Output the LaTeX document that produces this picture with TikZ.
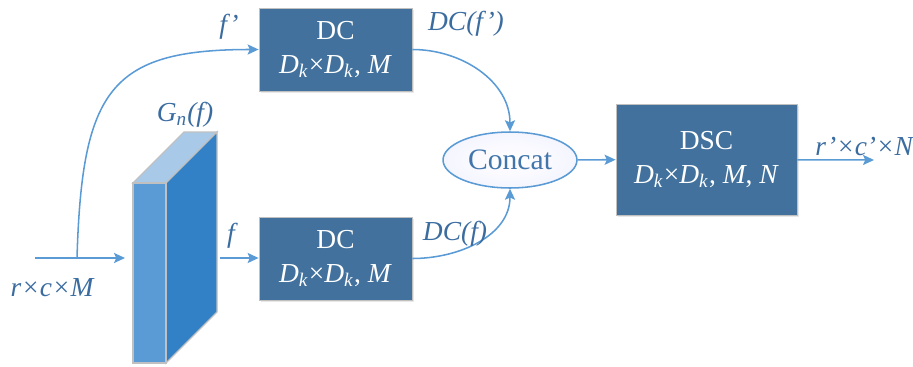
\documentclass[tikz,border=0pt]{standalone}
\usepackage{fontspec}
\setmainfont{Liberation Serif}
\usetikzlibrary{arrows.meta,shapes.geometric,shadows}
\definecolor{boxblue}{HTML}{41719C}
\definecolor{lineblue}{HTML}{5B9BD5}
\definecolor{txtblue}{HTML}{3B6CA0}
\definecolor{slabfront}{HTML}{5B9BD5}
\definecolor{slabside}{HTML}{3281C6}
\definecolor{slabtop}{HTML}{A9C9E8}
\definecolor{rimgray}{HTML}{C0C0C0}
\newcommand{\dk}{\textit{D}\textsubscript{\textit{k}}}
\tikzset{
    block/.style={draw=rimgray, fill=boxblue, text=white, align=center,
        inner sep=0pt, font=\fontsize{12.5}{15.5}\selectfont,
        drop shadow={opacity=0.18, shadow xshift=1pt, shadow yshift=-1pt}},
    link/.style={draw=lineblue, line width=0.7pt,
        -{Stealth[length=5pt, width=4.6pt, inset=1pt]}},
    lbl/.style={text=txtblue, font=\fontsize{12.5}{15}\selectfont\itshape, inner sep=0pt}
}
\begin{document}
\begin{tikzpicture}[x=0.016cm, y=-0.016cm]
    \useasboundingbox (0,0) rectangle (913,366);

    % Slab G_n(f)
    \begin{scope}[draw=rimgray, line width=0.6pt]
        \filldraw[fill=slabtop] (133,183) -- (184,132) -- (217,132) -- (166,183) -- cycle;
        \filldraw[fill=slabside] (166,183) -- (217,132) -- (217,312) -- (166,363) -- cycle;
        \filldraw[fill=slabfront] (133,183) rectangle (166,363);
    \end{scope}
    \coordinate (slabin) at (125,258);
    \coordinate (slabout) at (220,258);

    % Blocks
    \node[block, minimum width=2.448cm, minimum height=1.328cm] (dctop) at (335.5,49.5)
        {DC\\ \dk×\dk, \textit{M}};
    \node[block, minimum width=2.448cm, minimum height=1.328cm] (dcbot) at (335.5,258.5)
        {DC\\ \dk×\dk, \textit{M}};
    \node[block, minimum width=2.896cm, minimum height=1.776cm] (dsc) at (706.5,159.5)
        {DSC\\ \dk×\dk, \textit{M}, \textit{N}};
    \node[ellipse, draw=lineblue, line width=0.7pt, fill=white, inner color=white,
        outer color=blue!4, text=txtblue!80!lineblue, minimum width=2.144cm,
        minimum height=0.896cm, inner sep=0pt, font=\fontsize{13.5}{15}\selectfont]
        (concat) at (510,160) {Concat};

    % Connectors
    \coordinate (in) at (35,258);
    \coordinate (split) at (77,258);
    \coordinate (out) at (874,160);
    \draw[link] (in) -- (slabin);
    \draw[link] (split) .. controls (82,90) and (110,49.5) .. (dctop.west);
    \draw[link] (slabout) -- (dcbot.west |- slabout);
    \draw[link] (dctop.east) to[out=0, in=90] (concat.north);
    \draw[link] (dcbot.east) to[out=0, in=-90] (concat.south);
    \draw[link] (concat) -- (dsc);
    \draw[link] (dsc) -- (out);

    % Labels
    \node[lbl] (lin) at (52,288) {r×c×M};
    \node[lbl] (lgn) at (185,115) {G\textsubscript{n}(f)};
    \node[lbl] (lfp) at (229,27) {f’};
    \node[lbl] (lf) at (231,236) {f};
    \node[lbl] (ldcfp) at (466,24) {DC(f’)};
    \node[lbl] (ldcf) at (455,234) {DC(f)};
    \node[lbl, anchor=west] (lout) at (815,147) {r’×c’×N};
\end{tikzpicture}
\end{document}
